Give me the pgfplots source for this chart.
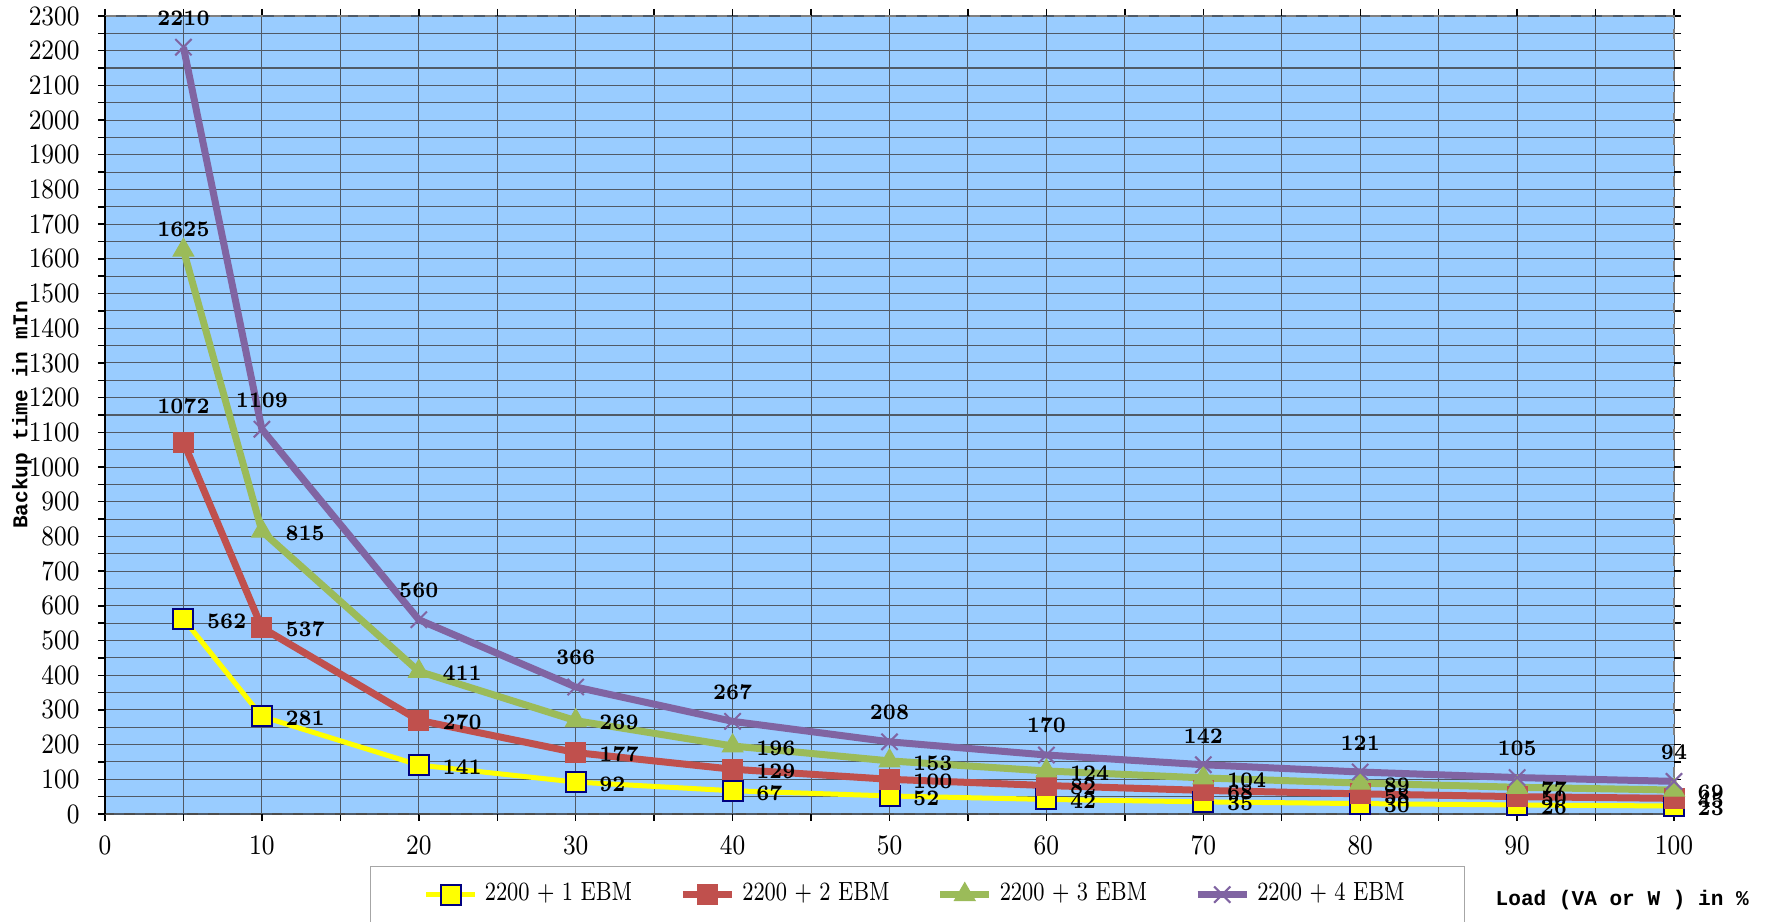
\documentclass[border=0pt]{standalone}
\usepackage{pgfplots}
\pgfplotsset{compat=1.18}
\usepackage{fontspec}
\newfontfamily\monofont{Liberation Mono}

\definecolor{bgblue}{HTML}{99CCFF}
\definecolor{ylw}{HTML}{FFFF00}
\definecolor{navy}{HTML}{000080}
\definecolor{redc}{HTML}{C0504D}
\definecolor{grnc}{HTML}{9BBB59}
\definecolor{purc}{HTML}{8064A2}
\definecolor{gridc}{HTML}{505A66}

\pgfplotsset{
  lab/.style={forget plot, draw=none, mark=none,
    nodes near coords={\fontsize{6.3}{7}\selectfont\bfseries\scalebox{0.85}[1]{\pgfmathprintnumber[assume math mode=true]{\pgfplotspointmeta}}},
    every node near coord/.append style={inner sep=0pt, text=black}},
  rlab/.style={lab, nodes near coords align={anchor=west},
    every node near coord/.append style={xshift=2.3mm, yshift=-0.2mm}},
  alab/.style={lab, nodes near coords align={anchor=south},
    every node near coord/.append style={yshift=#1}},
}

\begin{document}
\begin{tikzpicture}
\path[use as bounding box] (-10.5mm,-10.8mm) rectangle (166mm,81.4mm);
\begin{axis}[
  scale only axis, width=156.9mm, height=79.8mm,
  at={(0,0)}, anchor=south west,
  xmin=0, xmax=100, ymin=0, ymax=2300,
  xtick={0,10,...,100}, minor xtick={5,15,...,95},
  ytick={0,100,...,2300}, minor ytick={50,150,...,2250},
  grid=both,
  major grid style={gridc, line width=0.3pt},
  minor grid style={gridc, line width=0.3pt},
  tick align=outside, major tick length=0.7mm, minor tick length=0.7mm,
  tick style={black, line width=0.4pt},
  axis line style={draw=none},
  axis background/.style={fill=bgblue},
  clip=false,
  scaled ticks=false,
  /pgf/number format/1000 sep={},
  tick label style={font=\fontsize{8}{9}\selectfont},
  xticklabel={\scalebox{0.85}[1]{\pgfmathprintnumber{\tick}}},
  yticklabel={\scalebox{0.85}[1]{\pgfmathprintnumber{\tick}}},
  yticklabel style={xshift=-0.6mm},
  xticklabel style={yshift=-0.3mm},
  xlabel={\monofont\bfseries Load (VA or W ) in \%},
  xlabel style={at={(axis description cs:0.967,-0.108)}, anchor=center, font=\fontsize{6}{7}\selectfont},
  ylabel={\monofont\bfseries Backup time in mIn},
  ylabel style={at={(axis description cs:-0.053,0.5)}, anchor=center, font=\fontsize{6}{7}\selectfont},
  legend columns=4,
  legend cell align=left,
  legend image code/.code={\draw[mark repeat=2, mark phase=2, #1] plot coordinates {(0mm,0mm) (2.45mm,0mm) (4.9mm,0mm)};},
  legend style={at={(axis description cs:0.518,-0.101)}, anchor=center,
    draw=black!35, line width=0.3pt, fill=white,
    font=\fontsize{7.5}{8}\selectfont,
    inner xsep=5.3mm, inner ysep=0.9mm,
    /tikz/every even column/.append style={column sep=4mm}},
]

\addplot[ylw, line width=0.5mm, mark=square*, mark size=1mm,
  mark options={solid, fill=ylw, draw=navy, line width=0.2mm}]
  coordinates {(5,562)(10,281)(20,141)(30,92)(40,67)(50,52)(60,42)(70,35)(80,30)(90,26)(100,23)};
\addlegendentry{\scalebox{0.8}[1]{2200 + 1 EBM}}

\addplot[redc, line width=0.7mm, mark=square*, mark size=1mm,
  mark options={solid, fill=redc, draw=redc, line width=0.1mm}]
  coordinates {(5,1072)(10,537)(20,270)(30,177)(40,129)(50,100)(60,82)(70,68)(80,58)(90,50)(100,45)};
\addlegendentry{\scalebox{0.8}[1]{2200 + 2 EBM}}

\addplot[grnc, line width=0.7mm, mark=triangle*, mark size=1.2mm,
  mark options={solid, fill=grnc, draw=grnc, line width=0.1mm}]
  coordinates {(5,1625)(10,815)(20,411)(30,269)(40,196)(50,153)(60,124)(70,104)(80,89)(90,77)(100,69)};
\addlegendentry{\scalebox{0.8}[1]{2200 + 3 EBM}}

\addplot[purc, line width=0.7mm, mark=x, mark size=1.15mm,
  mark options={solid, draw=purc, line width=0.2mm}]
  coordinates {(5,2210)(10,1109)(20,560)(30,366)(40,267)(50,208)(60,170)(70,142)(80,121)(90,105)(100,94)};
\addlegendentry{\scalebox{0.8}[1]{2200 + 4 EBM}}

% value labels
\addplot[rlab] coordinates {(5,562)(10,281)(20,141)(30,92)(40,67)(50,52)(60,42)(70,35)(80,30)(90,26)(100,23)};
\addplot[rlab] coordinates {(10,537)(20,270)(30,177)(40,129)(50,100)(60,82)(70,68)(80,58)(90,50)(100,45)};
\addplot[alab=2.8mm] coordinates {(5,1072)};
\addplot[rlab] coordinates {(10,815)(20,411)(30,269)(40,196)(50,153)(60,124)(70,104)(80,89)(90,77)(100,69)};
\addplot[alab=1.3mm] coordinates {(5,1625)};
\addplot[alab=2.1mm] coordinates {(5,2210)(10,1109)(20,560)(30,366)(40,267)(50,208)(60,170)(70,142)(80,121)(90,105)(100,94)};

\draw[gray, dashed, line width=0.5pt] (rel axis cs:0,1) -- (rel axis cs:1,1) -- (rel axis cs:1,0);
\draw[black!70, dashed, line width=0.5pt] (rel axis cs:1,0) -- (rel axis cs:0,0);
\draw[black, line width=0.5pt] (rel axis cs:0,0) -- (rel axis cs:0,1);
\end{axis}
\end{tikzpicture}
\end{document}
